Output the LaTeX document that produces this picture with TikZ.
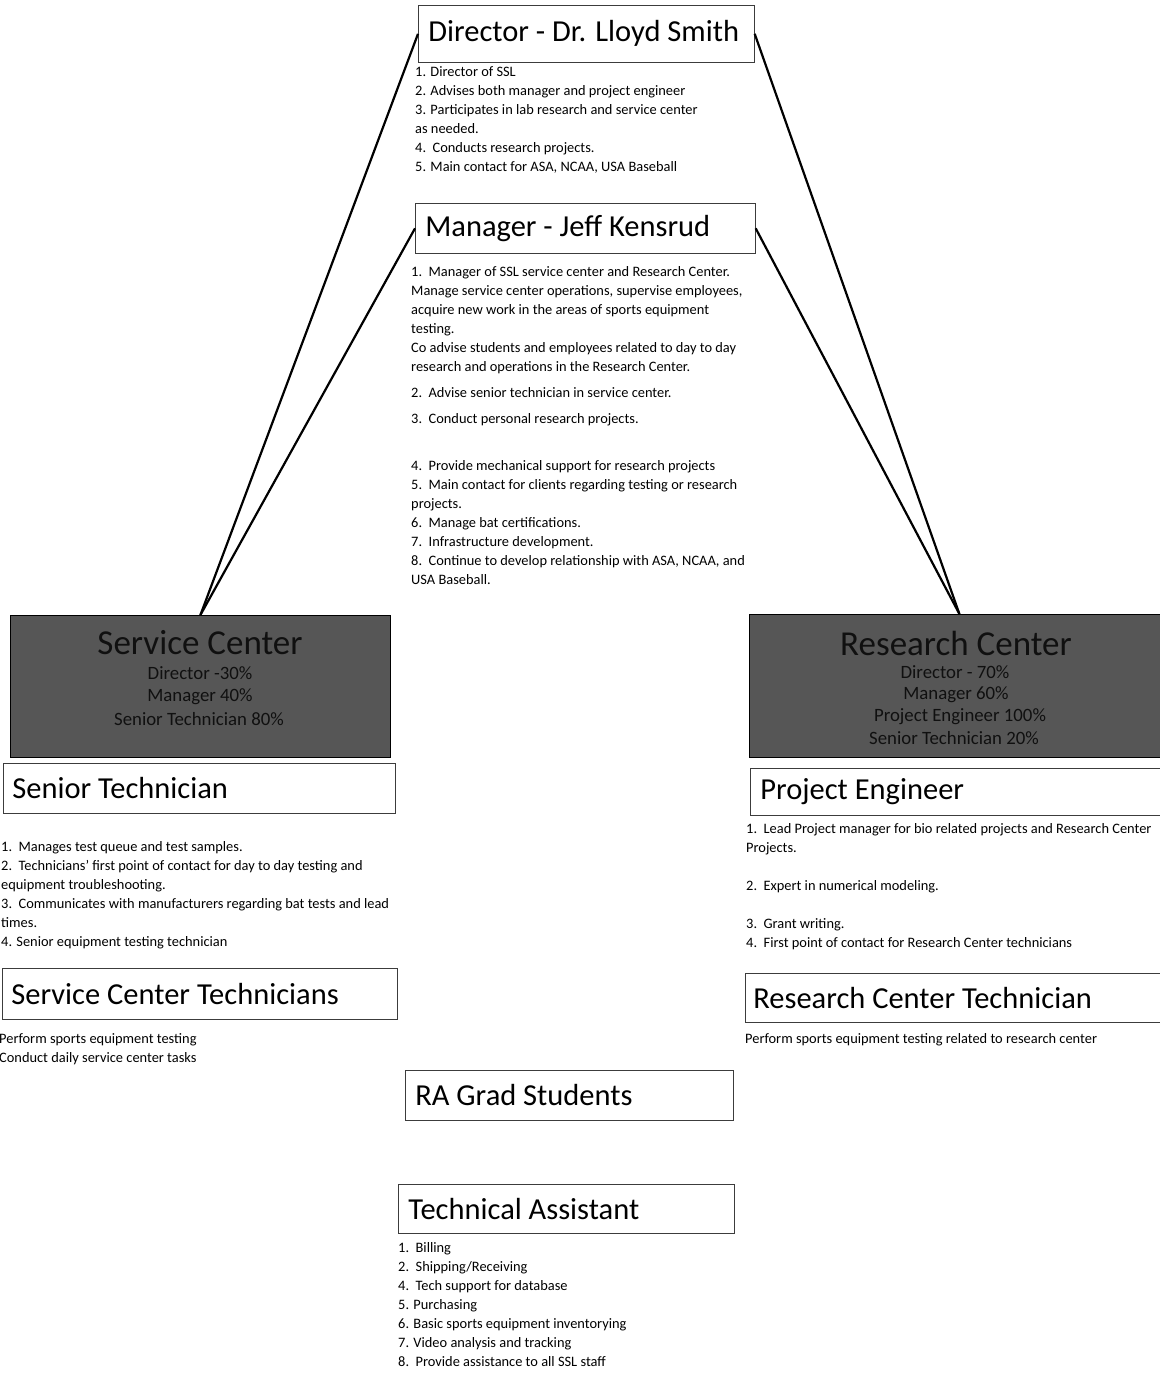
\documentclass[tikz,border=0pt]{standalone}
\usepackage{fontspec}
\setmainfont{Carlito}
\definecolor{boxline}{HTML}{3C3C3C}
\definecolor{darkfill}{HTML}{565656}
\definecolor{darktext}{HTML}{101010}
\begin{document}
\begin{tikzpicture}[x=1pt,y=-1pt,
  titlebox/.style={draw=boxline, line width=0.7pt, anchor=north west, inner ysep=0pt,
    align=left, font=\fontsize{30.5}{36}\selectfont,
    execute at begin node={\spaceskip=0pt\xspaceskip=0pt}},
  darkbox/.style={draw=black, line width=0.8pt, fill=darkfill, anchor=north west, inner sep=0pt},
  darktitle/.style={text=darktext, font=\fontsize{35}{40}\selectfont, inner sep=0pt},
  darksub/.style={text=darktext, font=\fontsize{18.8}{22}\selectfont, inner sep=0pt},
  desc/.style={anchor=north west, inner sep=0pt, align=left, font=\fontsize{14.4}{19}\selectfont,
    execute at begin node={\spaceskip=0pt\xspaceskip=0pt}},
  conn/.style={draw=black, line width=2.2pt}]
\fill[white] (0,0) rectangle (1159,1373);
\useasboundingbox (0,0) rectangle (1159,1373);

% title boxes
\node[titlebox, inner xsep=10pt, text width=316pt, minimum height=57pt] (dir) at (418,5) {Director - Dr. Lloyd Smith};
\node[titlebox, inner xsep=10pt, text width=320pt, minimum height=50pt] (mgr) at (415,203) {Manager - Jeff Kensrud};
\node[titlebox, inner xsep=9pt, text width=374pt, minimum height=50pt] (st) at (3,763) {Senior Technician};
\node[titlebox, inner xsep=9pt, text width=377pt, minimum height=51pt] (sct) at (2,968) {Service Center Technicians};
\node[titlebox, inner xsep=10pt, text width=400pt, minimum height=47pt] (pe) at (750,768) {Project Engineer};
\node[titlebox, inner xsep=8pt, text width=409pt, minimum height=49pt] (rct) at (745,973) {Research Center Technician};
\node[titlebox, inner xsep=10pt, text width=308pt, minimum height=50pt] (ra) at (405,1070) {RA Grad Students};
\node[titlebox, inner xsep=10pt, text width=316pt, minimum height=49pt] (ta) at (398,1184) {Technical Assistant};

% dark boxes
\node[darkbox, minimum width=380pt, minimum height=142pt] (sc) at (10,615) {};
\node[darkbox, minimum width=420pt, minimum height=143pt] (rc) at (749,614) {};

\node[darktitle] (sct1) at (200,643) {Service Center};
\node[darksub] (sct2) at (200,673) {Director -30\%};
\node[darksub] (sct3) at (200,697) {Manager 40\%};
\node[darksub] (sct4) at (199,719) {Senior Technician 80\%};

\node[darktitle] (rct1) at (956,643) {Research Center};
\node[darksub] (rct2) at (955,672) {Director - 70\%};
\node[darksub] (rct3) at (956,695) {Manager 60\%};
\node[darksub] (rct4) at (960,717) {Project Engineer 100\%};
\node[darksub] (rct5) at (954,738) {Senior Technician 20\%};

% connectors
\draw[conn] (dir.west) -- (sc.north);
\draw[conn] (mgr.west) -- (sc.north);
\draw[conn] (dir.east) -- (rc.north);
\draw[conn] (mgr.east) -- (rc.north);

% descriptions
\node[desc] (dird) at (415,63) {\strut 1. Director of SSL\\
2. Advises both manager and project engineer\\
3. Participates in lab research and service center\\
as needed.\\
4.\ \ Conducts research projects.\\
5. Main contact for ASA, NCAA, USA Baseball};

\node[desc] (mgrd) at (411,263) {\strut 1.\ \ Manager of SSL service center and Research Center.\\
Manage service center operations, supervise employees,\\
acquire new work in the areas of sports equipment\\
testing.\\
Co advise students and employees related to day to day\\
research and operations in the Research Center.\\[7pt]
2.\ \ Advise senior technician in service center.\\[7pt]
3.\ \ Conduct personal research projects.\\[27.6pt]
4.\ \ Provide mechanical support for research projects\\
5.\ \ Main contact for clients regarding testing or research\\
projects.\\
6.\ \ Manage bat certifications.\\
7.\ \ Infrastructure development.\\
8.\ \ Continue to develop relationship with ASA, NCAA, and\\
USA Baseball.};

\node[desc] (std) at (1,838) {\strut 1.\ \ Manages test queue and test samples.\\
2.\ \ Technicians' first point of contact for day to day testing and\\
equipment troubleshooting.\\
3.\ \ Communicates with manufacturers regarding bat tests and lead\\
times.\\
4. Senior equipment testing technician};

\node[desc] (sctd) at (-1,1030) {\strut Perform sports equipment testing\\
Conduct daily service center tasks};

\node[desc] (ped) at (746,820) {\strut 1.\ \ Lead Project manager for bio related projects and Research Center\\
Projects.\\[19pt]
2.\ \ Expert in numerical modeling.\\[19pt]
3.\ \ Grant writing.\\
4.\ \ First point of contact for Research Center technicians};

\node[desc] (rctd) at (745,1030) {\strut Perform sports equipment testing related to research center};

\node[desc] (tad) at (398,1239) {\strut 1.\ \ Billing\\
2.\ \ Shipping/Receiving\\
4.\ \ Tech support for database\\
5. Purchasing\\
6. Basic sports equipment inventorying\\
7. Video analysis and tracking\\
8.\ \ Provide assistance to all SSL staff};
\end{tikzpicture}
\end{document}
